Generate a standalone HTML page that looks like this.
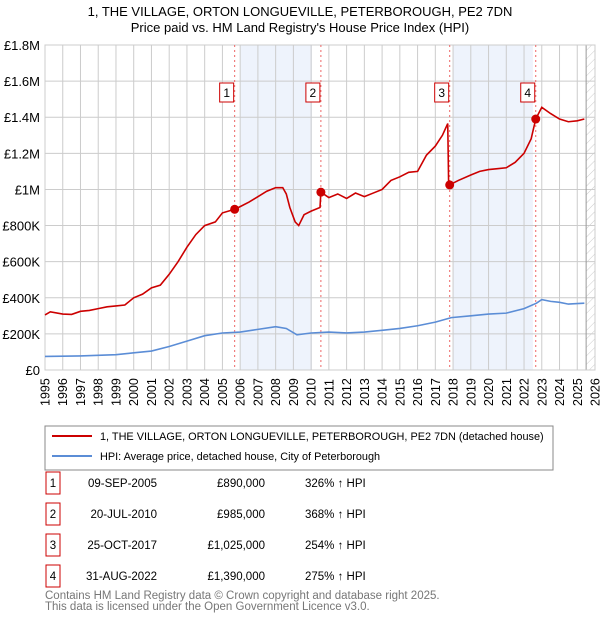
<!DOCTYPE html>
<html><head><meta charset="utf-8"><style>
body{margin:0;background:#fff;font-family:"Liberation Sans","DejaVu Sans",sans-serif;}
svg{display:block}
</style></head><body>
<svg id="chart" width="600" height="620" xmlns="http://www.w3.org/2000/svg">
<defs><pattern id="hatch" width="6" height="6" patternUnits="userSpaceOnUse" patternTransform="rotate(45)"><line x1="0" y1="0" x2="0" y2="6" stroke="#ccc" stroke-width="1"/></pattern></defs>
<text x="300" y="16" text-anchor="middle" font-size="13">1, THE VILLAGE, ORTON LONGUEVILLE, PETERBOROUGH, PE2 7DN</text>
<text x="300" y="32" text-anchor="middle" font-size="13">Price paid vs. HM Land Registry's House Price Index (HPI)</text>
<g id="plot"></g>
<rect x="45" y="426" width="508" height="44" fill="#fff" stroke="#888"/>
<line x1="52" y1="436" x2="92" y2="436" stroke="#cc0000" stroke-width="2"/>
<text x="100" y="440" font-size="10.9">1, THE VILLAGE, ORTON LONGUEVILLE, PETERBOROUGH, PE2 7DN (detached house)</text>
<line x1="52" y1="456" x2="92" y2="456" stroke="#5b8dd6" stroke-width="2"/>
<text x="100" y="460" font-size="10.9">HPI: Average price, detached house, City of Peterborough</text>
<g id="table" font-size="11.5"></g>
<text x="45" y="599" font-size="11.5" fill="#777">Contains HM Land Registry data © Crown copyright and database right 2025.</text>
<text x="45" y="610" font-size="11.5" fill="#777">This data is licensed under the Open Government Licence v3.0.</text>
</svg>
<script>
const yTicks=[0,200000,400000,600000,800000,1000000,1200000,1400000,1600000,1800000];
const yTickLabels=["£0","£200K","£400K","£600K","£800K","£1M","£1.2M","£1.4M","£1.6M","£1.8M"];
const xYears=[1995,1996,1997,1998,1999,2000,2001,2002,2003,2004,2005,2006,2007,2008,2009,2010,2011,2012,2013,2014,2015,2016,2017,2018,2019,2020,2021,2022,2023,2024,2025,2026];
const redT=[1995.0,1995.3,1996,1996.5,1997,1997.5,1998,1998.5,1999,1999.5,2000,2000.5,2001,2001.5,2002,2002.5,2003,2003.5,2004,2004.6,2005,2005.69,2006,2006.5,2007,2007.5,2008,2008.4,2008.6,2008.8,2009.1,2009.3,2009.6,2010,2010.5,2010.55,2011,2011.5,2012,2012.5,2013,2013.5,2014,2014.5,2015,2015.5,2016,2016.5,2017,2017.4,2017.7,2017.75,2017.8,2018.3,2019,2019.5,2020,2020.5,2021,2021.5,2022,2022.4,2022.66,2023,2023.5,2024,2024.5,2025,2025.4];
const redV=[305000,322000,310000,308000,325000,330000,340000,350000,355000,360000,400000,420000,455000,470000,530000,600000,680000,750000,800000,820000,870000,890000,905000,930000,960000,990000,1010000,1010000,975000,900000,820000,800000,860000,880000,900000,985000,955000,975000,950000,980000,960000,980000,1000000,1050000,1070000,1095000,1100000,1190000,1240000,1300000,1365000,1030000,1025000,1050000,1080000,1100000,1110000,1115000,1120000,1150000,1200000,1280000,1390000,1455000,1420000,1390000,1375000,1380000,1390000];
const blueT=[1995,1997,1999,2000,2001,2002,2003,2004,2005,2006,2007,2008,2008.6,2009.2,2010,2011,2012,2013,2014,2015,2016,2017,2017.9,2019,2020,2021,2022,2022.7,2023,2023.5,2024,2024.5,2025,2025.4];
const blueV=[75000,78000,85000,95000,105000,130000,160000,190000,205000,210000,225000,240000,230000,195000,205000,210000,205000,210000,220000,230000,245000,265000,290000,300000,310000,315000,340000,370000,390000,380000,375000,365000,368000,370000];
const saleT=[2005.69,2010.55,2017.81,2022.66];
const saleV=[890000,985000,1025000,1390000];
const saleLabels=["1","2","3","4"];
const saleDates=["09-SEP-2005","20-JUL-2010","25-OCT-2017","31-AUG-2022"];
const salePrices=["£890,000","£985,000","£1,025,000","£1,390,000"];
const saleHpi=["326% ↑ HPI","368% ↑ HPI","254% ↑ HPI","275% ↑ HPI"];
const shadeRanges=[[2006.0,2010.05],[2018.0,2022.5]];
const X0=45,X1=595,Y0=370,Y1=45;
const xs=t=>X0+(t-1995)/31*(X1-X0);
const ys=v=>Y0-v/1800000*(Y0-Y1);
const NS="http://www.w3.org/2000/svg";
const plot=document.getElementById('plot');
function mk(tag,attrs,parent){const e=document.createElementNS(NS,tag);for(const k in attrs)e.setAttribute(k,attrs[k]);(parent||plot).appendChild(e);return e;}
shadeRanges.forEach(r=>{const e=mk('rect',{x:xs(r[0]),y:Y1,width:xs(r[1])-xs(r[0]),height:Y0-Y1,fill:'#eef3fc'});

});
const h=mk('rect',{x:xs(2025.5),y:Y1,width:X1-xs(2025.5),height:Y0-Y1,fill:'url(#hatch)'});


yTicks.forEach((v,i)=>{const l=mk('line',{x1:X0,x2:X1,y1:ys(v),y2:ys(v),stroke:'#ccc'});


const t=mk('text',{x:40,y:ys(v)+5,'text-anchor':'end','font-size':13});t.textContent=yTickLabels[i];

});
xYears.forEach(y=>{const l=mk('line',{x1:xs(y),x2:xs(y),y1:Y1,y2:Y0,stroke:'#ccc'});


const t=mk('text',{x:0,y:0,'font-size':12.5,transform:`translate(${xs(y)+4.5},406) rotate(-90)`});t.textContent=y;

});
mk('line',{x1:xs(2025.5),x2:xs(2025.5),y1:Y1,y2:Y0,stroke:'#999'});
mk('rect',{x:X0,y:Y1,width:X1-X0,height:Y0-Y1,fill:'none',stroke:'#ccc'});
saleT.forEach((t,i)=>{const l=mk('line',{x1:xs(t),x2:xs(t),y1:Y1,y2:Y0,stroke:'#e66','stroke-dasharray':'2,3'});

});
const bp=mk('polyline',{points:blueT.map((t,i)=>xs(t)+','+ys(blueV[i])).join(' '),fill:'none',stroke:'#5b8dd6','stroke-width':1.6});


const rp=mk('polyline',{points:redT.map((t,i)=>xs(t)+','+ys(redV[i])).join(' '),fill:'none',stroke:'#cc0000','stroke-width':1.6});


saleT.forEach((t,i)=>{const c=mk('circle',{cx:xs(t),cy:ys(saleV[i]),r:4.5,fill:'#cc0000'});


const b=mk('rect',{x:xs(t)-15,y:83,width:14,height:19,fill:'#fff',stroke:'#cc0000'});


const tx=mk('text',{x:xs(t)-8,y:97,'text-anchor':'middle','font-size':12});tx.textContent=saleLabels[i];

});
const tbl=document.getElementById('table');
saleLabels.forEach((s,i)=>{const cy=483+i*31;
const b=mk('rect',{x:46,y:cy-11,width:14,height:22,fill:'#fff',stroke:'#cc0000'},tbl);


const a=mk('text',{x:53,y:cy+4,'text-anchor':'middle'},tbl);a.textContent=s;


const d=mk('text',{x:157,y:cy+4,'text-anchor':'end'},tbl);d.textContent=saleDates[i];


const p=mk('text',{x:265,y:cy+4,'text-anchor':'end'},tbl);p.textContent=salePrices[i];


const q=mk('text',{x:305,y:cy+4},tbl);q.textContent=saleHpi[i];

});
</script>
</body></html>
